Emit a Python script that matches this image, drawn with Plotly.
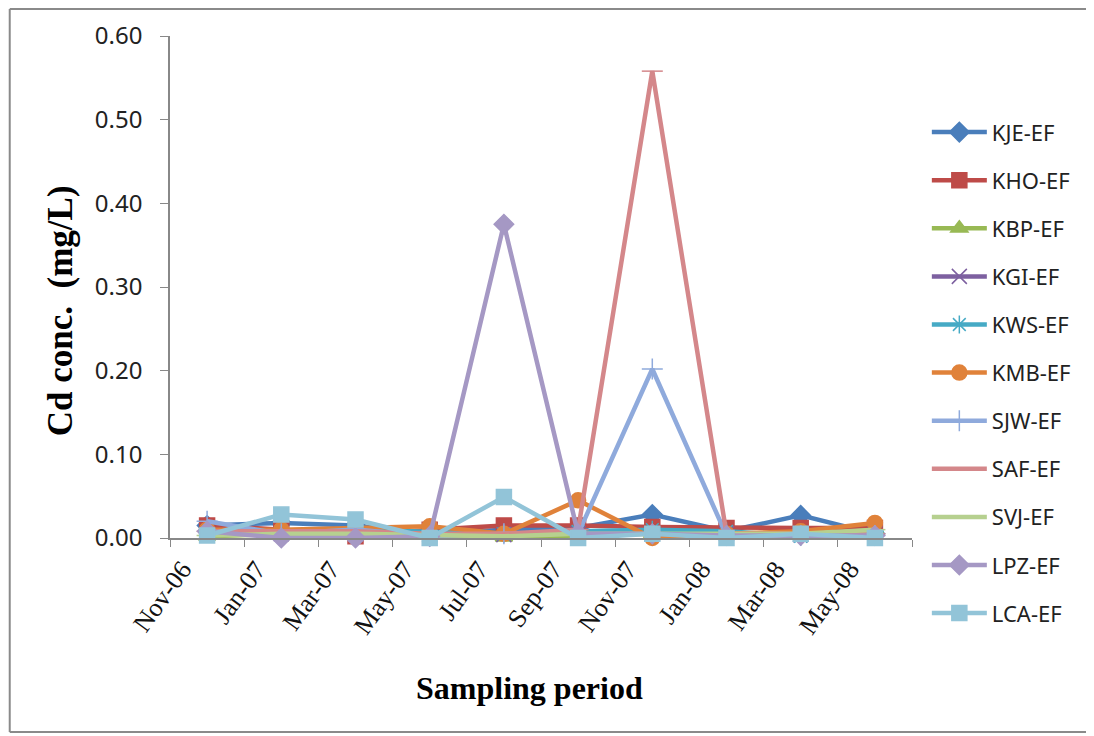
"""Cd concentration by sampling period, Excel-style line chart."""
from plotly import graph_objects as go

periods = ["Nov-06", "Jan-07", "Mar-07", "May-07", "Jul-07",
           "Sep-07", "Nov-07", "Jan-08", "Mar-08", "May-08"]

kje_ef = [0.015, 0.018, 0.015, 0.005, 0.010, 0.012, 0.028, 0.008, 0.027, 0.005]
kho_ef = [0.015, 0.010, 0.002, 0.010, 0.015, 0.015, 0.013, 0.012, 0.012, 0.012]
kbp_ef = [0.002, 0.005, 0.005, 0.003, 0.001, 0.003, 0.005, 0.005, 0.003, 0.010]
kgi_ef = [0.005, 0.005, 0.005, 0.004, 0.004, 0.005, 0.005, 0.005, 0.004, 0.005]
kws_ef = [0.008, 0.008, 0.010, 0.008, 0.005, 0.008, 0.010, 0.008, 0.002, 0.008]
kmb_ef = [0.010, 0.010, 0.012, 0.014, 0.005, 0.045, 0.000, 0.005, 0.008, 0.018]
sjw_ef = [0.020, 0.005, 0.010, 0.002, 0.005, 0.005, 0.202, 0.003, 0.003, 0.003]
saf_ef = [0.008, 0.008, 0.008, 0.005, 0.005, 0.010, 0.558, 0.005, 0.005, 0.005]
svj_ef = [0.003, 0.005, 0.005, 0.004, 0.002, 0.005, 0.005, 0.005, 0.005, 0.010]
lpz_ef = [0.008, 0.000, 0.000, 0.002, 0.375, 0.005, 0.005, 0.003, 0.003, 0.003]
lca_ef = [0.003, 0.028, 0.022, 0.000, 0.049, 0.000, 0.005, 0.000, 0.005, 0.000]

series = [
    ("KJE-EF", kje_ef, "#4A7EBB", "diamond"),
    ("KHO-EF", kho_ef, "#BE4B48", "square"),
    ("KBP-EF", kbp_ef, "#98B954", "triangle-up"),
    ("KGI-EF", kgi_ef, "#7D60A0", "x-thin-open"),
    ("KWS-EF", kws_ef, "#46AAC5", "asterisk-open"),
    ("KMB-EF", kmb_ef, "#E0823A", "circle"),
    ("SJW-EF", sjw_ef, "#8FAADC", "cross-thin-open"),
    ("SAF-EF", saf_ef, "#D4878A", "line-ew-open"),
    ("SVJ-EF", svj_ef, "#B6D08F", "line-ew-open"),
    ("LPZ-EF", lpz_ef, "#A598C4", "diamond"),
    ("LCA-EF", lca_ef, "#92C4D8", "square"),
]

fig = go.Figure()
for name, values, colour, symbol in series:
    fig.add_trace(
        go.Scatter(
            x=periods,
            y=values,
            name=name,
            legendgroup=name,
            mode="lines+markers",
            line={"color": colour, "width": 4.5},
            marker={"symbol": symbol, "size": 15, "color": colour,
                    "line": {"color": colour, "width": 1.5}},
            cliponaxis=False,
        )
    )

# the page adds an 8px body margin, so the figure is 8px smaller than the window
fig.update_layout(
    width=1086,
    height=728,
    margin={"l": 162, "r": 182, "t": 28, "b": 198, "autoexpand": False},
    paper_bgcolor="white",
    plot_bgcolor="white",
    font={"family": "Noto Sans", "size": 22, "color": "#222"},
    showlegend=True,
    legend={
        "x": 1.02, "y": 0.85, "xanchor": "left", "yanchor": "top",
        "font": {"size": 22, "family": "Noto Sans", "color": "#222"},
        "itemwidth": 55,
        "tracegroupgap": 16.5,
        "maxheight": 700,
        "bgcolor": "rgba(0,0,0,0)",
    },
    xaxis={
        "type": "category",
        "range": [-0.5, 9.5],
        "showgrid": False,
        "showline": True,
        "linecolor": "#888",
        "linewidth": 1.5,
        "ticks": "outside",
        "tickson": "boundaries",
        "ticklen": 7,
        "tickcolor": "#888",
        "tickangle": -54,
        "ticklabelstandoff": 4,
        "ticklabelshift": -25,
        "tickfont": {"family": "Liberation Serif", "size": 26, "color": "#111"},
        "zeroline": False,
    },
    yaxis={
        "range": [0, 0.6],
        "dtick": 0.1,
        "tickformat": ".2f",
        "showgrid": False,
        "showline": True,
        "linecolor": "#888",
        "linewidth": 1.5,
        "ticks": "outside",
        "ticklen": 8,
        "tickcolor": "#888",
        "ticklabelstandoff": 13,
        "tickfont": {"family": "Noto Sans", "size": 24, "color": "#222"},
        "zeroline": False,
    },
)

# axis titles placed as in the original (both slightly off-centre)
fig.add_annotation(
    text="<b>Sampling period</b>", xref="paper", yref="paper",
    x=0.485, y=-0.299, showarrow=False, xanchor="center", yanchor="middle",
    font={"family": "Liberation Serif", "size": 32, "color": "#000"},
)
fig.add_annotation(
    text="<b>Cd conc.&nbsp;&nbsp;(mg/L)</b>", xref="paper", yref="paper",
    x=-0.148, y=0.452, showarrow=False, textangle=-90,
    xanchor="center", yanchor="middle",
    font={"family": "Liberation Serif", "size": 35, "color": "#000"},
)

# outer chart-area frame: left, top and bottom edges
frame = {"color": "#8a8a8a", "width": 2}
fig.add_shape(type="line", xref="paper", yref="paper",
              x0=-0.216, x1=-0.216, y0=-0.3865, y1=1.054, line=frame)
fig.add_shape(type="line", xref="paper", yref="paper",
              x0=-0.216, x1=1.3, y0=1.054, y1=1.054, line=frame)
fig.add_shape(type="line", xref="paper", yref="paper",
              x0=-0.216, x1=1.3, y0=-0.3865, y1=-0.3865, line=frame)

fig.write_html("out.html")
